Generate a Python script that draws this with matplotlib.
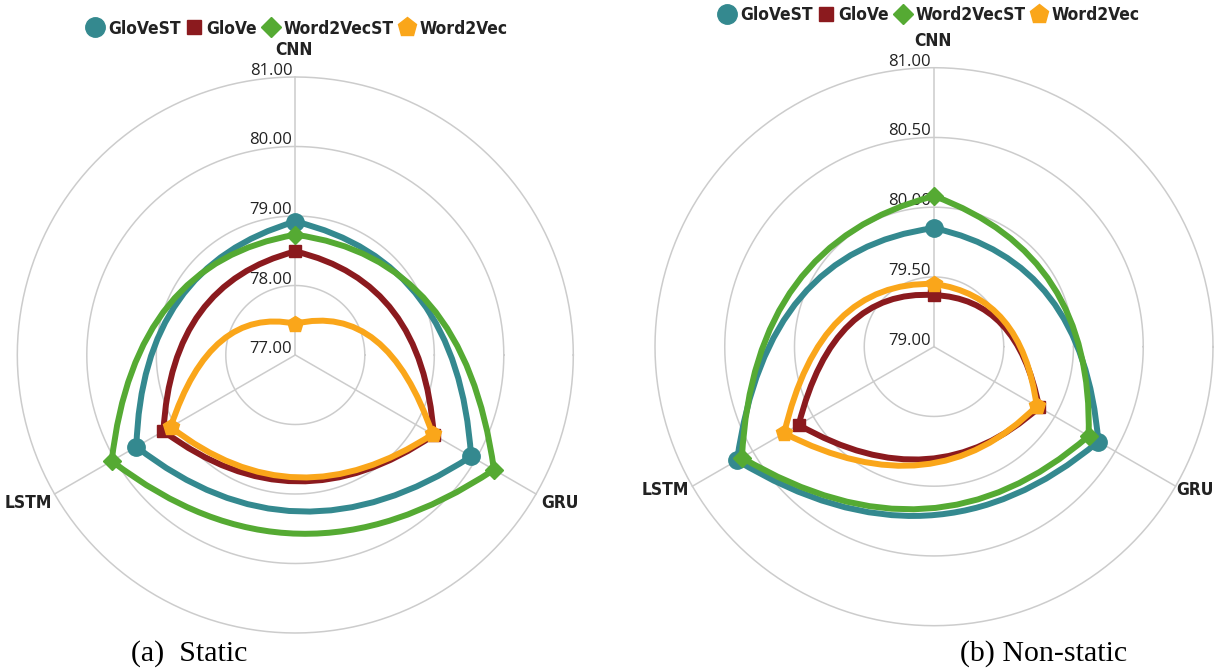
import numpy as np
import matplotlib.pyplot as plt
from matplotlib import font_manager
from matplotlib.font_manager import FontProperties
from matplotlib.lines import Line2D
from matplotlib.path import Path
from matplotlib.patches import PathPatch
from matplotlib.textpath import TextPath

# --- data -------------------------------------------------------------
AXES_NAMES = ["CNN", "GRU", "LSTM"]
SERIES_NAMES = ["GloVeST", "GloVe", "Word2VecST", "Word2Vec"]

# accuracy per model (CNN, GRU, LSTM)
STATIC_GLOVE_ST = [78.92, 79.92, 79.64]
STATIC_GLOVE = [78.49, 79.30, 79.19]
STATIC_W2V_ST = [78.73, 80.30, 80.05]
STATIC_W2V = [77.45, 79.28, 79.07]
STATIC_TICKS = [77.00, 78.00, 79.00, 80.00, 81.00]

NONSTATIC_GLOVE_ST = [79.85, 80.36, 80.63]
NONSTATIC_GLOVE = [79.37, 79.87, 80.12]
NONSTATIC_W2V_ST = [80.08, 80.28, 80.59]
NONSTATIC_W2V = [79.45, 79.85, 80.24]
NONSTATIC_TICKS = [79.00, 79.50, 80.00, 80.50, 81.00]

# --- style ------------------------------------------------------------
COLORS = ["#34898f", "#8b1a1e", "#55aa33", "#faa61a"]
MARKERS = ["o", "s", "D", "p"]
MARKER_SIZES = [12.5, 9, 8.9, 11.8]
LEGEND_SIZES = [14, 10, 10, 13.7]
GRID_COLOR = "#cccccc"
TEXT_COLOR = "#222222"
ANGLES_DEG = [90, -30, 210]
BULGE = 1.12

W, H = 1215, 671
PX = 0.72  # points per pixel at 100 dpi


def find_narrow_bold():
    """A condensed bold face if one is installed, else a compact bold family."""
    for f in font_manager.fontManager.ttflist:
        fn = f.fname.replace(" ", "").lower()
        if ("narrow" in fn or "condensed" in fn) and "bold" in fn and "italic" not in fn \
                and "oblique" not in fn and "extra" not in fn and "semi" not in fn:
            return FontProperties(fname=f.fname)
    names = {f.name for f in font_manager.fontManager.ttflist}
    for fam in ["Roboto", "Lato", "Liberation Sans", "DejaVu Sans"]:
        if fam in names:
            return FontProperties(family=fam, weight="bold")
    return FontProperties(weight="bold")


def fit_size(prop, samples):
    """Font size (pt) whose ink widths best match the given pixel widths."""
    sizes = []
    for text, target_px in samples:
        w = TextPath((0, 0), text, size=10, prop=prop).get_extents().width
        sizes.append(10 * target_px * PX / w)
    return float(np.mean(sizes))


BOLD = find_narrow_bold()
# the names are set tightly; a little extra size keeps their height close
BOLD_SIZE = 1.1 * fit_size(BOLD, [("GloVeST", 65), ("Word2VecST", 98),
                                  ("Word2Vec", 80), ("LSTM", 41)])
BOLD_PX = BOLD_SIZE / PX
names_installed = {f.name for f in font_manager.fontManager.ttflist}
TICK_FONT = "Open Sans" if "Open Sans" in names_installed else "DejaVu Sans"
SERIF = "Liberation Serif" if "Liberation Serif" in names_installed else "DejaVu Serif"

CHARTS = [
    dict(series=[STATIC_GLOVE_ST, STATIC_GLOVE, STATIC_W2V_ST, STATIC_W2V],
         ticks=STATIC_TICKS, center=(295.3, 355.0), radius=278.0,
         legend_at=(296.5, 28.5), name_dx=5, name_dy=9, caption="(a)  Static",
         caption_at=(189, 654)),
    dict(series=[NONSTATIC_GLOVE_ST, NONSTATIC_GLOVE, NONSTATIC_W2V_ST, NONSTATIC_W2V],
         ticks=NONSTATIC_TICKS, center=(934.0, 346.7), radius=279.0,
         legend_at=(928.5, 15.0), name_dx=1, name_dy=4, caption="(b) Non-static",
         caption_at=(1044, 654)),
]


def radial(values, lo, hi):
    return [(v - lo) / (hi - lo) for v in values]


def polar_xy(r, deg):
    t = np.radians(deg)
    return r * np.cos(t), r * np.sin(t)


def radar_path(values, lo, hi):
    """Closed outline: one quadratic arc per pair of neighbouring axes."""
    r = radial(values, lo, hi)
    n = len(r)
    pts = [polar_xy(r[i], ANGLES_DEG[i]) for i in range(n)]
    verts = [pts[0]]
    codes = [Path.MOVETO]
    for i in range(n):
        j = (i + 1) % n
        mid = ANGLES_DEG[i] - 180.0 / n
        rho = BULGE * (r[i] + r[j]) / 2
        verts += [polar_xy(rho, mid), pts[j]]
        codes += [Path.CURVE3, Path.CURVE3]
    return Path(verts, codes), pts


def bold_prop():
    p = BOLD.copy()
    p.set_size(BOLD_SIZE)
    return p


fig = plt.figure(figsize=(W / 100, H / 100), dpi=100)

for chart in CHARTS:
    cx, cy = chart["center"]
    R = chart["radius"]
    ax = fig.add_axes([(cx - R) / W, (H - cy - R) / H, 2 * R / W, 2 * R / H])
    ax.set_xlim(-1, 1)
    ax.set_ylim(-1, 1)
    ax.set_aspect("equal")
    ax.axis("off")

    ticks = chart["ticks"]
    lo, hi = ticks[0], ticks[-1]

    # rings and spokes
    theta = np.linspace(0, 2 * np.pi, 361)
    for rr in radial(ticks[1:], lo, hi):
        ax.plot(rr * np.cos(theta), rr * np.sin(theta), color=GRID_COLOR,
                lw=1.1, zorder=1, clip_on=False)
    for deg in ANGLES_DEG:
        x, y = polar_xy(1.0, deg)
        ax.plot([0, x], [0, y], color=GRID_COLOR, lw=1.1, zorder=1, clip_on=False)

    # radial value labels along the CNN spoke
    for t, rr in zip(ticks, radial(ticks, lo, hi)):
        ax.annotate(f"{t:.2f}", xy=(0, rr), xytext=(-3 * PX, 2 * PX),
                    textcoords="offset points", ha="right", va="baseline",
                    fontsize=12, family=TICK_FONT, color=TEXT_COLOR, zorder=2)

    # axis names
    ax.annotate(AXES_NAMES[0], xy=polar_xy(1.0, ANGLES_DEG[0]),
                xytext=(-1.5 * PX, 27 * PX), textcoords="offset points",
                ha="center", va="center", fontproperties=bold_prop(),
                color=TEXT_COLOR)
    ax.annotate(AXES_NAMES[1], xy=polar_xy(1.0, ANGLES_DEG[1]),
                xytext=(chart["name_dx"] * PX, -chart["name_dy"] * PX),
                textcoords="offset points", ha="left", va="center",
                fontproperties=bold_prop(), color=TEXT_COLOR)
    ax.annotate(AXES_NAMES[2], xy=polar_xy(1.0, ANGLES_DEG[2]),
                xytext=(-3 * PX, -chart["name_dy"] * PX), textcoords="offset points",
                ha="right", va="center", fontproperties=bold_prop(),
                color=TEXT_COLOR)

    # series outlines with markers
    for k, values in enumerate(chart["series"]):
        path, pts = radar_path(values, lo, hi)
        z = 3 + 2 * k
        ax.add_patch(PathPatch(path, facecolor="none", edgecolor=COLORS[k],
                               lw=4.3, joinstyle="round", zorder=z, clip_on=False))
        xs, ys = zip(*pts)
        ax.plot(xs, ys, linestyle="none", marker=MARKERS[k], ms=MARKER_SIZES[k],
                color=COLORS[k], mec=COLORS[k], zorder=z + 1, clip_on=False)

    handles = [Line2D([], [], linestyle="none", marker=MARKERS[k], ms=LEGEND_SIZES[k],
                      color=COLORS[k], label=SERIES_NAMES[k]) for k in range(4)]
    lx, ly = chart["legend_at"]
    fig.legend(handles=handles, loc="center", bbox_to_anchor=(lx / W, 1 - ly / H),
               ncol=4, frameon=False, labelcolor=TEXT_COLOR, prop=bold_prop(),
               handlelength=19.5 / BOLD_PX, handletextpad=3.0 / BOLD_PX,
               columnspacing=3.5 / BOLD_PX, borderpad=0, borderaxespad=0)

    capx, capy = chart["caption_at"]
    fig.text(capx / W, 1 - capy / H, chart["caption"], ha="center", va="center",
             family=SERIF, fontsize=21.5, color="black")

fig.savefig("out.png", dpi=100)
